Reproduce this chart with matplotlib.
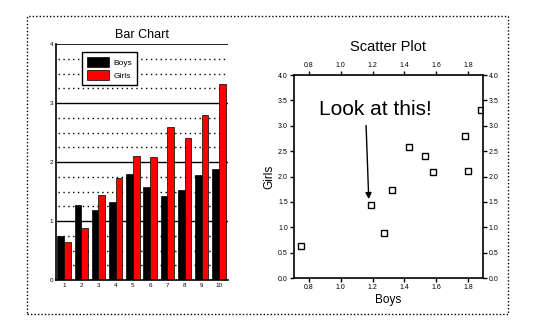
import numpy as np
import matplotlib
matplotlib.use("Agg")
import matplotlib.pyplot as plt
from matplotlib.patches import Rectangle

# data
groups = [1, 2, 3, 4, 5, 6, 7, 8, 9, 10]
boys = [0.75, 1.27, 1.19, 1.32, 1.80, 1.58, 1.43, 1.53, 1.78, 1.88]
girls = [0.64, 0.89, 1.44, 1.73, 2.10, 2.08, 2.59, 2.40, 2.79, 3.32]

bar_yticks = [0, 1, 2, 3, 4]
sc_xticks = [0.8, 1.0, 1.2, 1.4, 1.6, 1.8]
sc_yticks = [0.0, 0.5, 1.0, 1.5, 2.0, 2.5, 3.0, 3.5, 4.0]

plt.rcParams['font.family'] = ['Liberation Sans', 'DejaVu Sans']

fig = plt.figure(figsize=(5.35, 3.31), dpi=100)

# dotted frame round everything
fig.patches.append(Rectangle((0.0505, 0.0523), 0.899, 0.8994, transform=fig.transFigure,
                             fill=False, ec='black', lw=1, ls=(0, (1, 1.5))))

# ---- bar chart
ax1 = fig.add_axes([0.1047, 0.154, 0.3215, 0.713])
x = np.array(groups)
w = 0.39
for v in np.arange(0.25, 4.0, 0.25):
    if v % 1 == 0:
        ax1.axhline(v, color='black', lw=1, zorder=0)
    else:
        ax1.axhline(v, xmin=0.012, color='black', lw=1, ls=(0, (1, 2.5)), zorder=0)
ax1.axhline(4, color='black', lw=1.2, zorder=0)
ax1.bar(x - w / 2, boys, w, color='black', edgecolor='black', lw=0.5, label='Boys', zorder=2)
ax1.bar(x + w / 2, girls, w, color='#ff0000', edgecolor='black', lw=0.5, label='Girls', zorder=2)
ax1.set_xlim(0.53, 10.53)
ax1.set_ylim(0, 4)
ax1.set_xticks(groups)
ax1.set_yticks(bar_yticks)
ax1.tick_params(labelsize=4.5, length=0, pad=2)
for s in ['top', 'right']:
    ax1.spines[s].set_visible(False)
ax1.spines['left'].set_linewidth(1.2)
ax1.spines['bottom'].set_linewidth(1.2)
ax1.set_title('Bar Chart', fontsize=9, pad=4)
leg = ax1.legend(loc='upper left', bbox_to_anchor=(0.151, 0.966), fontsize=6,
                 fancybox=False, framealpha=1, edgecolor='black', borderaxespad=0,
                 handlelength=2.6, handleheight=1.5, borderpad=0.6, labelspacing=0.35,
                 handletextpad=0.6)
leg.get_frame().set_linewidth(1)

# ---- scatter plot
ax2 = fig.add_axes([0.5495, 0.1601, 0.3527, 0.6133])
ax2.plot(boys, girls, ls='none', marker='s', ms=5, mfc='none', mec='black', mew=1)
ax2.set_xlim(0.708, 1.89)
ax2.set_ylim(0, 4)
ax2.set_xticks(sc_xticks)
ax2.set_yticks(sc_yticks)
ax2.xaxis.set_major_formatter(plt.FormatStrFormatter('%.1f'))
ax2.yaxis.set_major_formatter(plt.FormatStrFormatter('%.1f'))
ax2.tick_params(labelsize=5, direction='out', length=3, width=1, pad=1.5,
                top=True, right=True, labeltop=True, labelright=True)
for s in ax2.spines.values():
    s.set_linewidth(1.2)
ax2.set_xlabel('Boys', fontsize=8.5, labelpad=2)
ax2.set_ylabel('Girls', fontsize=8.5, labelpad=2)
ax2.set_title('Scatter Plot', fontsize=10.5, pad=17)
ax2.text(1.215, 3.33, 'Look at this!', fontsize=15, ha='center', va='center')
ax2.annotate('', xy=(1.177, 1.5), xytext=(1.159, 3.06),
             arrowprops=dict(arrowstyle='-|>', color='black', lw=1, mutation_scale=9))

fig.savefig('out.png', dpi=100)
